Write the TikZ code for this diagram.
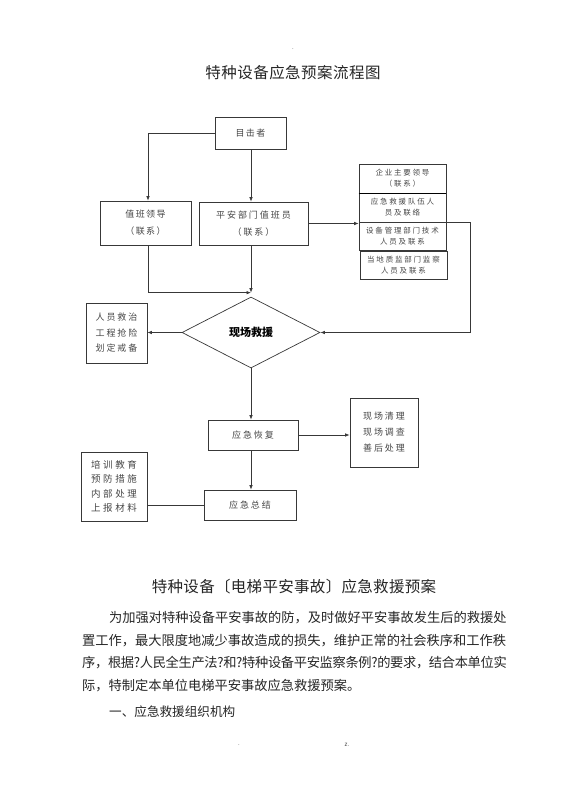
\documentclass[tikz,border=0pt]{standalone}
\usepackage{fontspec}
\setmainfont{Noto Sans CJK SC}
\usetikzlibrary{arrows.meta,shapes.geometric}
\definecolor{ln}{gray}{0.22}
\definecolor{tx}{gray}{0.28}
\definecolor{bd}{gray}{0.15}
\begin{document}
\begin{tikzpicture}[x=1pt,y=-1pt,
  box/.style={draw=ln, line width=0.7pt, inner sep=0pt, align=center, text=tx,
    font={\fontsize{9}{17}\selectfont\addfontfeature{LetterSpace=16}}},
  gbox/.style={box, minimum width=87, font={\fontsize{7.5}{11}\selectfont\addfontfeature{LetterSpace=24}}},
  sbox/.style={box, font={\fontsize{9}{15.5}\selectfont\addfontfeature{LetterSpace=22}}},
  arr/.style={draw=ln, line width=0.7pt, -{Latex[length=4.5pt,width=3.5pt]}},
  con/.style={draw=ln, line width=0.7pt},
  body/.style={anchor=west, inner sep=0pt, text=bd, font={\fontsize{13.25}{16}\selectfont}},
  ttl/.style={inner sep=0pt, text=bd},
  foot/.style={inner sep=0pt, text=tx, font={\fontsize{6}{7}\selectfont}}
]
\useasboundingbox[fill=white] (0,0) rectangle (560,792);

% titles
\node[foot] (dot1) at (293,49) {.};
\node[ttl, font={\fontsize{15.5}{18}\selectfont\addfontfeature{LetterSpace=3}}] (title) at (293,73) {特种设备应急预案流程图};

% flowchart nodes
\node[box, minimum width=71, minimum height=32] (mj) at (250.5,133) {目击者};
\node[box, minimum width=91, minimum height=44] (zb) at (145.5,223) {值班领导\\（联系）};
\node[box, minimum width=109, minimum height=43, font={\fontsize{9}{17}\selectfont\addfontfeature{LetterSpace=22}}] (pa) at (253.5,223.5) {平安部门值班员\\（联系）};

\node[gbox, minimum height=29] (r1) at (402.5,178.5) {企业主要领导\\（联系）};
\node[gbox, minimum height=29] (r2) at (402.5,207.5) {应急救援队伍人\\员及联络};
\node[gbox, minimum height=28] (r3) at (402.5,236) {设备管理部门技术\\人员及联系};
\node[gbox, minimum height=28] (r4) at (403.5,265) {当地质监部门监察\\人员及联系};
\draw[line width=1.6pt, black] (r1.south west) -- (r1.south east);

\node[draw=ln, line width=0.7pt, shape=diamond, aspect=1.94, inner sep=0pt,
  minimum width=138, minimum height=71, text=black,
  font={\fontsize{11}{13}\selectfont\bfseries}] (dia) at (251,332.5) {现场救援};

\node[sbox, minimum width=61, minimum height=60] (l1) at (116.5,333) {人员救治\\工程抢险\\划定戒备};
\node[box, minimum width=90, minimum height=30, font={\fontsize{9}{17}\selectfont\addfontfeature{LetterSpace=22}}] (hf) at (253,435) {应急恢复};
\node[box, minimum width=68, minimum height=69, font={\fontsize{9}{16}\selectfont\addfontfeature{LetterSpace=22}}] (r5) at (384,432.5) {现场清理\\现场调查\\善后处理};
\node[box, minimum width=92, minimum height=30, font={\fontsize{9}{17}\selectfont\addfontfeature{LetterSpace=22}}] (zj) at (250,505) {应急总结};
\node[box, minimum width=66, minimum height=69, font={\fontsize{9.5}{14.3}\selectfont\addfontfeature{LetterSpace=28}}] (l2) at (114,486.5) {培训教育\\预防措施\\内部处理\\上报材料};

% connectors
\coordinate (m) at ([yshift=4pt]dia.north);
\draw[arr] (mj.west) -| ([xshift=2.5pt]zb.north);
\draw[arr] (mj.south -| m) -- (pa.north -| m);
\draw[arr] ([xshift=2.5pt]zb.south) |- (m);
\draw[arr] (pa.south -| m) -- (m);
\draw[arr] (pa.east) -- (pa.east -| r2.west);
\coordinate (rt) at ([xshift=24pt]r2.south east);
\draw[arr] (r2.south east) -- (rt) |- (dia.east);
\draw[arr] (dia.west) -- (l1.east |- dia.west);
\draw[arr] (dia.south) -- (hf.north -| dia.south);
\draw[arr] (hf.east) -- (r5.west |- hf.east);
\draw[arr] (hf.south -| dia.south) -- (zj.north -| dia.south);
\draw[con] (zj.west) -- (l2.east |- zj.west);

% lower text
\node[ttl, font={\fontsize{15.5}{18}\selectfont\addfontfeature{LetterSpace=2}}] (t2) at (294,587) {特种设备〔电梯平安事故〕应急救援预案};
\node[body] (p1) at (109,618) {为加强对特种设备平安事故的防，及时做好平安事故发生后的救援处};
\node[body] (p2) at (82,641) {置工作，最大限度地减少事故造成的损失，维护正常的社会秩序和工作秩};
\node[body, font={\fontsize{13.25}{16}\selectfont\addfontfeature{LetterSpace=-2.5}}] (p3) at (82,663) {序，根据?人民全生产法?和?特种设备平安监察条例?的要求，结合本单位实};
\node[body] (p4) at (82,686) {际，特制定本单位电梯平安事故应急救援预案。};
\node[body, font={\fontsize{12.6}{16}\selectfont}] (h1) at (109,712) {一、应急救援组织机构};
\node[foot] (f1) at (239,745) {.};
\node[foot] (f2) at (347,745) {z.};
\end{tikzpicture}
\end{document}
